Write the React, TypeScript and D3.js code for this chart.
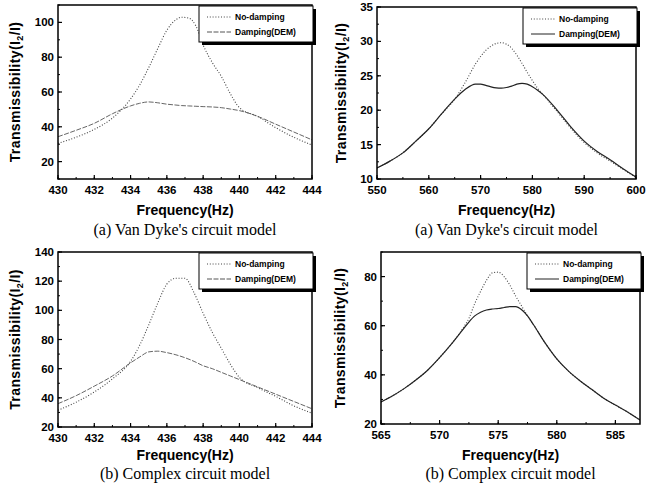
import React, { useEffect, useRef } from "react";
import * as d3 from "d3";

// (a) Van Dyke's circuit model, 430-444 Hz
const freqA1 = [430, 431, 432, 433, 434, 434.5, 435, 435.5, 436, 436.5, 436.8, 437.2, 437.6, 438, 438.5, 439, 439.5, 440, 441, 442, 443, 444];
const noDampA1 = [30.5, 34, 38.5, 45, 56, 64, 74, 85, 95.5, 101.5, 103, 102.5, 98, 87, 77, 69, 59, 51, 46, 39.5, 34, 29.5];
const dampA1 = [34.3, 38, 42, 47.5, 52, 53.5, 54.3, 53.8, 53, 52.5, 52.2, 52, 51.8, 51.6, 51.4, 51, 50.2, 49.3, 46, 41.5, 37, 32.5];

// (a) Van Dyke's circuit model, 550-600 Hz
const freqA2 = [550, 552.5, 555, 557.5, 560, 562.5, 565, 567, 569, 570, 571, 572, 573, 574, 575, 576, 577, 578, 579, 580, 581, 582, 585, 587.5, 590, 592.5, 595, 597.5, 600];
const noDampA2 = [11.6, 12.6, 13.8, 15.5, 17.3, 19.5, 21.6, 24, 26.7, 27.8, 28.7, 29.3, 29.7, 29.8, 29.6, 29, 28, 26.8, 25.5, 24.3, 23.2, 22.3, 19.6, 17.3, 15.3, 13.8, 12.6, 11.4, 10.2];
const dampA2 = [11.6, 12.6, 13.8, 15.5, 17.3, 19.5, 21.6, 23, 23.8, 23.8, 23.6, 23.4, 23.25, 23.2, 23.3, 23.5, 23.8, 23.9, 23.8, 23.4, 22.9, 22.3, 19.8, 17.5, 15.5, 14, 12.8, 11.5, 10.3];

// (b) Complex circuit model, 430-444 Hz
const freqB1 = [430, 431, 432, 433, 434, 434.5, 435, 435.5, 436, 436.5, 437, 437.5, 438, 438.5, 439, 439.5, 440, 441, 442, 443, 444];
const noDampB1 = [31.5, 37, 44, 53, 65, 76, 90, 105, 118, 122, 122, 112, 98, 85, 74, 63, 54, 47, 41, 34.5, 29.5];
const dampB1 = [36, 41.5, 48, 55, 64, 68, 71.5, 72, 71, 69.5, 67.5, 65, 62, 60, 57.5, 55, 52.5, 47.5, 42.5, 37.5, 32.5];

// (b) Complex circuit model, 565-587 Hz
const freqB2 = [565, 566, 567, 568, 569, 570, 571, 572, 572.5, 573, 573.5, 574, 574.5, 575, 575.5, 576, 576.5, 577, 577.5, 578, 579, 580, 581, 582, 583, 584, 585, 586, 587.1];
const noDampB2 = [29, 31.5, 34.5, 38, 42, 47, 52.5, 59, 63, 69, 74, 78.5, 81.5, 81.8, 80, 76.5, 72, 68, 64, 60.5, 53, 46.5, 41.5, 37.5, 34, 30.5, 27.7, 25, 21.6];
const dampB2 = [29, 31.5, 34.5, 38, 42, 47, 52.5, 58.5, 61.5, 64, 65.5, 66.4, 66.8, 67, 67.4, 67.8, 67.8, 66.5, 64, 60.5, 53, 46.5, 41.5, 37.5, 34, 30.5, 27.7, 25, 21.6];

const xTicks1 = [430, 432, 434, 436, 438, 440, 442, 444];
const xTicksA2 = [550, 560, 570, 580, 590, 600];
const xTicksB2 = [565, 570, 575, 580, 585];
const yTicksA1 = [20, 40, 60, 80, 100];
const yTicksA2 = [10, 15, 20, 25, 30, 35];
const yTicksB1 = [20, 40, 60, 80, 100, 120, 140];
const yTicksB2 = [20, 40, 60, 80];

const legendLabels = ["No-damping", "Damping(DEM)"];
const captions = ["(a) Van Dyke's circuit model", "(b) Complex circuit model"];

const panels = [
  { box: [58, 5, 312, 179], xd: [430, 444], yd: [10, 110], xt: xTicks1, xm: 1, yt: yTicksA1, ym: 10,
    f: freqA1, nd: noDampA1, d: dampA1, cap: captions[0], dash: "5,1.5", dCol: "#555", capY: 235, fY: 215, lx: 15 },
  { box: [377, 7, 636, 179], xd: [550, 600], yd: [10, 35], xt: xTicksA2, xm: 5, yt: yTicksA2, ym: 2.5,
    f: freqA2, nd: noDampA2, d: dampA2, cap: captions[0], dash: null, dCol: "#222", capY: 235, fY: 215, lx: 341 },
  { box: [58, 252, 312, 427], xd: [430, 444], yd: [20, 140], xt: xTicks1, xm: 1, yt: yTicksB1, ym: 10,
    f: freqB1, nd: noDampB1, d: dampB1, cap: captions[1], dash: "5,1.5", dCol: "#555", capY: 479, fY: 460, lx: 15 },
  { box: [381, 252, 640, 424], xd: [565, 587.1], yd: [20, 90], xt: xTicksB2, xm: 2.5, yt: yTicksB2, ym: 10,
    f: freqB2, nd: noDampB2, d: dampB2, cap: captions[1], dash: null, dCol: "#222", capY: 479, fY: 460, lx: 340 },
];

const SANS = "'Liberation Sans', Arial, sans-serif";
const SERIF = "'Liberation Serif', 'Times New Roman', serif";

export default function App() {
  const svgRef = useRef<SVGSVGElement>(null);

  useEffect(() => {
    const svg = d3.select(svgRef.current);
    svg.selectAll("*").remove();

    panels.forEach((p, i) => {
      const [l, t, r, b] = p.box;
      const x = d3.scaleLinear().domain(p.xd).range([l, r]);
      const y = d3.scaleLinear().domain(p.yd).range([b, t]);
      const g = svg.append("g");

      g.append("clipPath").attr("id", "clip" + i)
        .append("rect").attr("x", l).attr("y", t).attr("width", r - l).attr("height", b - t);

      // curves
      const line = d3.line<number>()
        .x((_, k) => x(p.f[k]))
        .y((v) => y(v))
        .curve(d3.curveMonotoneX);

      g.append("path").attr("d", line(p.nd)).attr("fill", "none")
        .attr("stroke", "#444").attr("stroke-width", 1.1).attr("stroke-dasharray", "1,1.8")
        .attr("clip-path", `url(#clip${i})`);
      g.append("path").attr("d", line(p.d)).attr("fill", "none")
        .attr("stroke", p.dCol).attr("stroke-width", p.dash ? 0.9 : 1.2)
        .attr("stroke-dasharray", p.dash)
        .attr("clip-path", `url(#clip${i})`);

      // minor ticks (inward)
      d3.range(p.xd[0], p.xd[1] + 1e-6, p.xm).forEach((v) => {
        g.append("line").attr("x1", x(v)).attr("x2", x(v)).attr("y1", b).attr("y2", b - 2)
          .attr("stroke", "#000").attr("stroke-width", 1);
      });
      d3.range(p.yd[0], p.yd[1] + 1e-6, p.ym).forEach((v) => {
        g.append("line").attr("x1", l).attr("x2", l + 2).attr("y1", y(v)).attr("y2", y(v))
          .attr("stroke", "#000").attr("stroke-width", 1);
      });

      // major ticks + labels
      p.xt.forEach((v) => {
        g.append("line").attr("x1", x(v)).attr("x2", x(v)).attr("y1", b).attr("y2", b - 4)
          .attr("stroke", "#000").attr("stroke-width", 1.2);
        g.append("text").attr("x", x(v)).attr("y", b + 15).attr("text-anchor", "middle")
          .attr("font-family", SANS).attr("font-weight", "bold").attr("font-size", 11.5)
          .text(v);
      });
      p.yt.forEach((v) => {
        g.append("line").attr("x1", l).attr("x2", l + 4).attr("y1", y(v)).attr("y2", y(v))
          .attr("stroke", "#000").attr("stroke-width", 1.2);
        g.append("text").attr("x", l - 4).attr("y", y(v) + 4).attr("text-anchor", "end")
          .attr("font-family", SANS).attr("font-weight", "bold").attr("font-size", 11.5)
          .text(v);
      });

      // frame
      g.append("rect").attr("x", l).attr("y", t).attr("width", r - l).attr("height", b - t)
        .attr("fill", "none").attr("stroke", "#000").attr("stroke-width", 1.5);

      // legend
      const lw = 114, lh = 36;
      const lx = r - lw + 1, ly = t + 1;
      g.append("rect").attr("x", lx + 3).attr("y", ly + 3).attr("width", lw).attr("height", lh).attr("fill", "#000");
      g.append("rect").attr("x", lx).attr("y", ly).attr("width", lw).attr("height", lh)
        .attr("fill", "#fff").attr("stroke", "#000").attr("stroke-width", 1);
      legendLabels.forEach((lab, k) => {
        const yy = ly + 11 + k * 15;
        g.append("line").attr("x1", lx + 8).attr("x2", lx + 32).attr("y1", yy).attr("y2", yy)
          .attr("stroke", k === 0 ? "#444" : p.dCol).attr("stroke-width", 1)
          .attr("stroke-dasharray", k === 0 ? "1,1.8" : p.dash);
        g.append("text").attr("x", lx + 36).attr("y", yy + 3).attr("font-family", SANS)
          .attr("font-weight", "bold").attr("font-size", 8.5).text(lab);
      });

      // axis titles
      const cx = (l + r) / 2;
      const cy = (t + b) / 2;
      const yl = g.append("text").attr("transform", `translate(${p.lx + 5},${cy}) rotate(-90)`)
        .attr("text-anchor", "middle").attr("font-family", SANS).attr("font-weight", "bold")
        .attr("font-size", 14).attr("letter-spacing", 0.4);
      yl.append("tspan").text("Transmissibility(I");
      yl.append("tspan").attr("font-size", 9).attr("dy", 3).text("2");
      yl.append("tspan").attr("dy", -3).text("/I)");

      g.append("text").attr("x", cx).attr("y", p.fY).attr("text-anchor", "middle")
        .attr("font-family", SANS).attr("font-weight", "bold").attr("font-size", 14)
        .text("Frequency(Hz)");
      g.append("text").attr("x", cx).attr("y", p.capY).attr("text-anchor", "middle")
        .attr("font-family", SERIF).attr("font-size", 16).text(p.cap);
    });
  }, []);

  return (
    <svg ref={svgRef} width={658} height={490}
      style={{ position: "absolute", left: 0, top: 0, background: "#fff" }} />
  );
}
